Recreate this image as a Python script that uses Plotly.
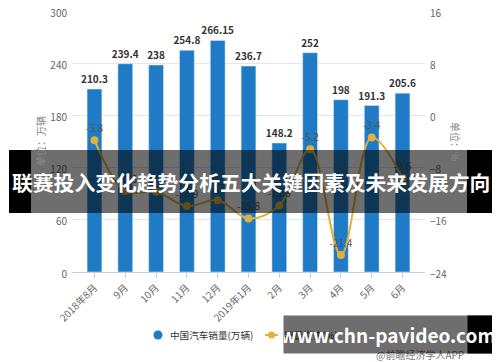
import plotly.graph_objects as go

categories = ["2018年8月", "9月", "10月", "11月", "12月", "2019年1月", "2月", "3月", "4月", "5月", "6月"]
sales = [210.3, 239.4, 238, 254.8, 266.15, 236.7, 148.2, 252, 198, 191.3, 205.6]
growth = [-3.8, -11.6, -11.7, -13.9, -13.0, -15.8, -13.8, -5.2, -21.4, -3.4, -9.6]
left_ticks = [0, 60, 120, 180, 240, 300]
right_ticks = [-24, -16, -8, 0, 8, 16]

bar_name = "中国汽车销量(万辆)"
line_name = "销量增速(%)"
title_text = "联赛投入变化趋势分析五大关键因素及未来发展方向"
wm_text = "www.chn-pavideo.com"
src_text = "@前瞻经济学人APP"

# page body has an 8px margin; window is 500x362
OFF = 8
W, H = 500 - OFF, 362 - OFF
X0, X1, Y0, Y1 = 72, 425, 11, 272   # plot area in window pixels
PW, PH = X1 - X0, Y1 - Y0


def px(x):
    return (x - X0) / PW


def py(y):
    return (Y1 - y) / PH


FONT = "Noto Sans CJK SC"
BLUE = "#1F7BC5"
GOLD = "#E0B23C"

fig = go.Figure()
fig.add_trace(go.Bar(
    x=categories, y=sales, marker_color=BLUE, width=0.48,
    text=[f"{v:g}" for v in sales], textposition="outside", constraintext="none", textangle=0,
    textfont=dict(size=10, color="#333", family=FONT, weight="bold"),
    cliponaxis=False, showlegend=False, name=bar_name,
))
fig.add_trace(go.Scatter(
    x=categories, y=growth, yaxis="y2", name=line_name, showlegend=False,
    mode="lines+markers+text", line=dict(color=GOLD, width=2, shape="spline", smoothing=1),
    marker=dict(color=GOLD, size=8),
    text=[f"{v:g}" for v in growth], textposition="top center",
    textfont=dict(size=10, color="#555", family=FONT),
    cliponaxis=False,
))

shapes = [
    # legend symbols
    dict(type="circle", xref="paper", yref="paper", x0=px(153.5), x1=px(162.5), y0=py(339.5), y1=py(330.5),
         fillcolor=BLUE, line=dict(width=0)),
    dict(type="line", xref="paper", yref="paper", x0=px(265), x1=px(278), y0=py(335), y1=py(335),
         line=dict(color=GOLD, width=2)),
    dict(type="circle", xref="paper", yref="paper", x0=px(268), x1=px(275), y0=py(338.5), y1=py(331.5),
         fillcolor=GOLD, line=dict(width=0)),
    # title band
    dict(type="rect", xref="paper", yref="paper", x0=px(9), x1=px(492), y0=py(213), y1=py(150),
         fillcolor="rgba(0,0,0,0.57)", line=dict(width=0), layer="above"),
    dict(type="rect", xref="paper", yref="paper", x0=px(9), x1=px(31), y0=py(213), y1=py(150),
         fillcolor="black", line=dict(width=0), layer="above"),
    dict(type="rect", xref="paper", yref="paper", x0=px(467), x1=px(492), y0=py(213), y1=py(150),
         fillcolor="black", line=dict(width=0), layer="above"),
]


def ann(text, x, y, **kw):
    d = dict(text=text, xref="paper", yref="paper", x=px(x), y=py(y),
             xanchor="center", yanchor="middle", showarrow=False)
    d.update(kw)
    return d


annotations = [
    ann("单位：万辆", 40, 141, textangle=-90, font=dict(size=10, color="#888")),
    ann("单位：%", 456, 141, textangle=90, font=dict(size=10, color="#888")),
    ann(title_text, 250.5, 182, font=dict(size=20.8, color="white", family=FONT, weight="bold")),
    ann(bar_name, 168, 335, xanchor="left", font=dict(size=9.6, color="#333")),
    ann(line_name, 282, 335, xanchor="left", font=dict(size=9.6, color="#333")),
    ann(src_text, 420, 354, font=dict(size=10, color="#777")),
    ann("&nbsp;", 467, 315, xanchor="left", yanchor="top",
        width=24, height=37, borderpad=0, bgcolor="black"),
    ann(wm_text, 283, 315, xanchor="left", yanchor="top",
        width=208, height=37, borderpad=0, bgcolor="rgba(0,0,0,0.57)",
        font=dict(size=19, color="white", family=FONT, weight="bold")),
]

fig.update_layout(
    width=W, height=H,
    margin=dict(l=X0 - OFF, r=W - (X1 - OFF), t=Y0 - OFF, b=H - (Y1 - OFF), autoexpand=False),
    paper_bgcolor="white", plot_bgcolor="white",
    font=dict(family=FONT, color="#666", size=10),
    showlegend=False,
    xaxis=dict(
        range=[-0.73, 10.73], tickangle=-45, showline=True, linecolor="#cfcfcf",
        ticks="outside", ticklen=5, tickcolor="#cfcfcf", tickfont=dict(size=10, color="#666"),
        showgrid=False, fixedrange=True,
    ),
    yaxis=dict(
        range=[0, 300], tickvals=left_ticks, showgrid=True, gridcolor="#e6e6e6",
        zeroline=False, tickfont=dict(size=10, color="#666"), ticklabelstandoff=4,
        ticklabeloverflow="allow", ticklabelshift=2,
    ),
    yaxis2=dict(
        range=[-24, 16], tickvals=right_ticks, overlaying="y", side="right",
        showgrid=False, zeroline=False, tickfont=dict(size=10, color="#666"), ticklabelstandoff=4,
        ticklabeloverflow="allow", ticklabelshift=2,
    ),
    shapes=shapes,
    annotations=annotations,
)

fig.write_html("out.html")
